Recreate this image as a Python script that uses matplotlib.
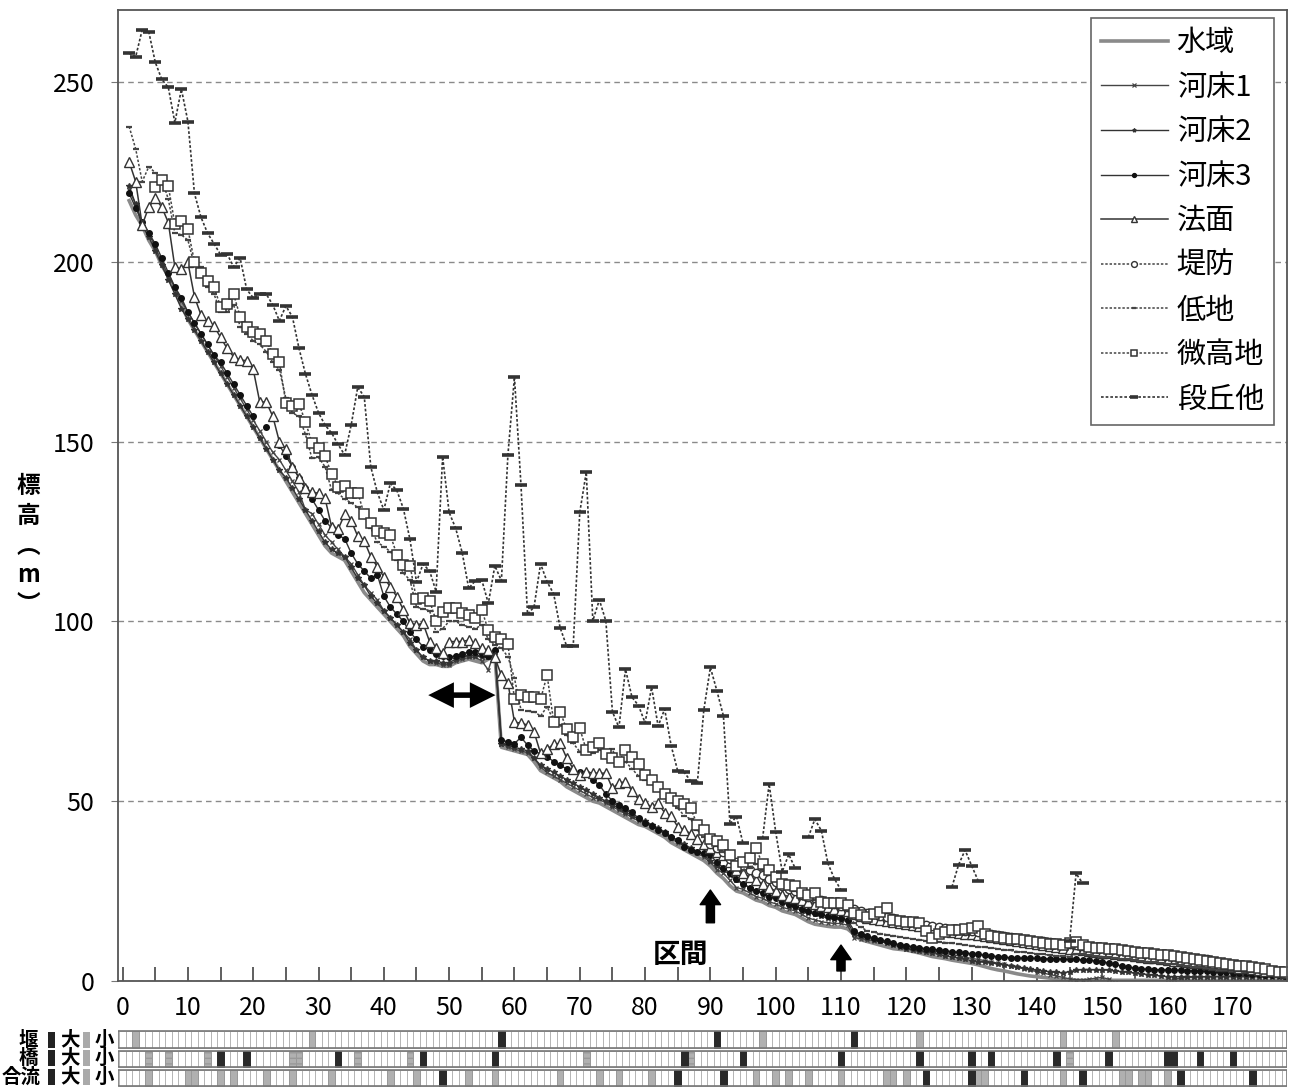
import numpy as np
import matplotlib.pyplot as plt
from matplotlib.patches import Rectangle

plt.rcParams['font.family'] = ['Noto Sans CJK JP', 'DejaVu Sans']
plt.rcParams['hatch.color'] = '#777777'

nan = np.nan
x = np.arange(1, 179)

# elevation (m) for each section, x = 1..178
suiiki = [217, 213, 210, 206, 203, 199, 196, 192, 188, 184,
          181, 178, 175, 172, 169, 166, 163, 160, 157, 154,
          151, 148, 145, 142, 139, 136, 133, 130, 127, 124,
          121, 119, 118, 117, 114, 111, 108, 106, 104, 102,
          100, 98, 96, 93, 91, 89, 88, 88, 87.5, 87.5,
          88.5, 89, 89.5, 89, 88.5, 89.5, 91,
          65, 64.5, 64, 63.5, 63, 61, 58.5, 57.5, 56.5, 55.5, 54, 53, 52,
          51, 50, 49.5, 48.5, 47.5, 46.5, 45.5, 44.5, 43.5, 43,
          42, 41, 40, 38.5, 37.5, 36.5, 35.5, 34.5, 33.5, 32,
          30, 28.5, 26.5, 25, 24.5, 23.5, 22.5, 22, 21, 20.5,
          19.5, 19, 18.5, 17.5, 16.5, 15.8, 15.5, 15.2, 15, 15,
          14.5, 13, 11.5, 11, 10.5, 10, 9.5, 9, 8.8, 8.6,
          8.2, 7.8, 7.3, 6.8, 6.5, 6.2, 5.8, 5.5, 5.2, 4.9,
          4.5, 4, 3.5, 3.1, 2.8, 2.4, 2, 1.7, 1.4, 1.2,
          1, 0.8, 0.6, 0.4, 0.3, 0.2, 0.2, 0.2, 0.2, 0.2,
          0.2, 0.2, 0.2, 0.2, 0.2, 0.2, 0.2, 0.2, 0.2, 0.2,
          0.2, 0.2, 0.2, 0.2, 0.2, 0.2, 0.2, 0.2, 0.2, 0.2,
          0.2, 0.2, 0.2, 0.2, 0.2, 0.2, 0.2, 0.2]

kasho1 = [220, 216, 211, 208, 204, 200, 196, 193, 189, 186,
          183, 180, 177, 174, 171, 168, 165, 162, 159, 156,
          153, 150, 147, 145, 142, 139, 136, 131, 130, 127,
          124, 122, 120, 118, 116, 113, 110, 108, 106, 103,
          101, 99, 97, 95, 92, 90, 89, 88.5, 88, 88,
          89, 89.5, 90, 90, 89, 86.5, 92,
          66, 65, 64.5, 64, 63.5, 62, 59.5, 58, 57, 56, 55, 54, 53,
          52, 51, 50.5, 49.5, 48.5, 47.5, 46.5, 45.5, 44.5, 44,
          43, 42, 41, 39.5, 38.5, 37.5, 36.5, 35.5, 34.5, 33,
          31, 30, 28, 26, 25.5, 24.5, 23.5, 23, 22, 21.5,
          20.5, 20, 19.5, 18.5, 17.5, 17, 16.5, 16.2, 16, 16,
          15.5, 12, 11.8, 11.5, 11.2, 11, 10.7, 10.4, 10.1, 9.8,
          9.5, 9.2, 8.8, 8.4, 8, 7.7, 7.3, 7, 6.6, 6.3,
          6, 5.7, 5.3, 5, 4.6, 4.2, 3.8, 3.4, 3, 2.6,
          2.2, 1.8, 1.4, 1, 0.6, 0.4, 0.3, 0.5, 0.8, 1,
          0.5, -0.5, -1, -1, -1, -1, -1, -1, -1, -0.5,
          0.5, 0.8, 1, 1.1, 1.2, 1.2, 1.3, 1.3, 1.4, 1.4,
          1.5, 1.5, 1.5, 1.6, 1.6, 1.6, 1.6, 1.7]

kasho2 = [221, 216, 210, 207, 203, 199, 195, 191, 187, 184,
          181, 178, 175, 172, 169, 166, 163, 160, 157, 154,
          151, 148, 145, 142, 140, 137, 134, 131, 128, 125,
          122, 120, 119, 118, 115, 112, 110, 107, 105, 103,
          101, 99, 97, 94, 92, 90, 89, 89, 88.5, 88.5,
          89.5, 90, 90.5, 90.5, 90, 90, 91.5,
          66, 65.5, 65, 64.5, 64, 62, 60, 59, 58, 57, 56, 55, 54,
          53, 52, 51, 50, 49, 48, 47, 46, 45, 44.5,
          43.5, 42.5, 41.5, 40, 39, 38, 37, 36, 35, 33.5,
          32, 31, 29.5, 28, 27, 26, 25, 24.5, 23.5, 23,
          22, 21, 20.5, 19.5, 19, 18.5, 18, 17.5, 17.2, 17,
          16.5, 13, 12.5, 12, 11.5, 11, 10.5, 10, 9.5, 9,
          8.6, 8.3, 8, 7.7, 7.4, 7, 6.7, 6.3, 6, 5.7,
          5.4, 5.2, 5, 4.8, 4.5, 4.2, 3.9, 3.6, 3.3, 3,
          2.8, 2.6, 2.4, 2.3, 2.6, 3, 3.2, 3.2, 3.1, 3.1,
          3, 2.8, 2.6, 2.4, 2.2, 2, 1.8, 1.6, 1.4, 1.2,
          1.2, 1.2, 1.2, 1.2, 1.2, 1.2, 1.2, 1.2, 1.2, 1.2,
          1.2, 1.2, 1.2, 1.2, 1.2, 1.1, 1.1, 1.1]

kasho3 = [219, 215, 211, 208, 205, 201, 197, 193, 190, 186,
          183, 180, 177, 174, 172, 169, 166, 163, 160, 157,
          nan, 154, nan, 149, 146, 143, 140, 137, 134, 131,
          128, 126, 124, 123, 119, 116, 114, 112, 113, 107,
          104, 102, 100, 97, 95, 93, 92, 91, 90.5, 90,
          90.5, 91, 91.5, 91.5, 91, 90.5, 92,
          67, 66.5, 66, 67.8, 65.6, 64, 63.1, 62.4, 61, 60, 59, 58.5, 58,
          57.8, 55.9, 54.5, 52, 50.1, 48.9, 48, 47, 45.2, 43.9,
          43, 42, 41.2, 40.1, 39.2, 37.3, 36.5, 36, 35.5, 35,
          33, 31.5, 30, 28.5, 27, 26, 25, 24.5, 23.5, 23,
          22, 21.5, 21, 20, 19.5, 19, 18.5, 18, 17.8, 17.5,
          17, 14, 13, 12.5, 12, 11.5, 11, 10.5, 10, 9.8,
          9.5, 9.3, 9, 8.8, 8.6, 8.4, 8.2, 8, 7.8, 7.6,
          7.4, 7.2, 7, 6.8, 6.6, 6.5, 6.4, 6.4, 6.3, 6.3,
          6.2, 6.2, 6.1, 6.1, 6, 6, 5.9, 5.8, 5.6, 5.4,
          5, 4.6, 4.2, 3.9, 3.6, 3.4, 3.3, 3.2, 3.1, 3.1,
          3, 3, 2.9, 2.9, 2.8, 2.7, 2.6, 2.5, 2.4, 2.3,
          2.2, 2.1, 2, 1.9, 1.8, 1.7, 1.6, 1.5]

houmen = [227.8, 222.3, 210.2, 215.2, 217.6, 215.2, 210.9, 198.5, 198, 199.8,
          190.3, 185.2, 183.5, 182.1, 179, 175.9, 173.6, 172.7, 172.5, 170.1,
          161, 161, 157, 150, 148, 143, 140, 137, 136, 135.6,
          134.2, 126.3, 125.6, 129.8, 128, 123.7, 122.4, 118, 115.2, 112.4,
          109.5, 106.9, 103.2, 99.5, 99, 99.5, 94.4, 92.5, 91.3, 94.4,
          94.4, 94.4, 94.8, 93.9, 92.5, 92, 90,
          85, 83, 72, 71.7, 71.2, 69.3, 63.3, 64.5, 65.8, 66.1, 62, 59, 57.3,
          58.2, 57.8, 57.8, 57.8, 53.6, 55.1, 55.4, 52.9, 50.5, 49.6,
          48.3, 49.4, 46.8, 45.9, 42.9, 42, 41, 39.5, 38, 37,
          36, 35, 33, 31, 30, 29, 28, 27, 26, 25,
          24, 23.5, 23, 22.5, 22, 21.5, 21, 20.5, 20, 19.8,
          19.5, 18.5, 18, 17.5, 17.2, 17, 16.7, 16.4, 16, 15.8,
          15.5, 15.2, 14.9, 14.6, 14.3, 14, 13.7, 13.4, 13.2, 13,
          12.8, 12.5, 12.2, 12, 11.7, 11.4, 11.1, 10.8, 10.5, 10.2,
          10, 9.7, 9.5, 9.2, 9, 8.8, 8.6, 8.3, 8.1, 7.9,
          7.7, 7.5, 7.3, 7.1, 6.9, 6.7, 6.5, 6.3, 6.1, 5.9,
          5.7, 5.5, 5.3, 5.1, 4.9, 4.7, 4.5, 4.3, 4.1, 3.9,
          3.7, 3.5, 3.3, 3.1, 2.9, 2.7, 2.5, 2.3]

teibou = [nan, nan, nan, nan, nan, nan, nan, nan, nan, nan,
          nan, nan, nan, nan, nan, nan, nan, nan, nan, nan,
          nan, nan, nan, nan, nan, nan, nan, nan, nan, nan,
          nan, nan, nan, nan, nan, nan, nan, nan, nan, nan,
          nan, nan, nan, nan, nan, nan, nan, nan, nan, nan,
          nan, nan, nan, nan, nan, nan, nan,
          nan, nan, nan, nan, nan, nan, nan, nan, nan, nan, nan, nan, nan,
          nan, nan, nan, nan, nan, nan, nan, nan, nan, nan,
          nan, nan, nan, nan, nan, nan, nan, nan, nan, 38,
          37, 36, 34, 33, 32, 31, 30, 29.5, 28.5, 27.5,
          26.5, 25.5, 25, 24, 23.5, 23, 22.5, 22, 21.5, 21,
          20.5, 20, 19.5, 19, 18.5, 18.2, 17.8, 17.4, 17, 16.6,
          16.3, 16, 15.7, 15.4, 15.1, 14.8, 14.5, 14.2, 14, 13.8,
          13.5, 13.2, 13, 12.7, 12.4, 12.2, 12, 11.7, 11.5, 11.2,
          11, 10.8, 10.6, 10.4, 10.2, 10, 9.8, 9.6, 9.4, 9.2,
          9, 8.8, 8.6, 8.4, 8.2, 8, 7.8, 7.6, 7.4, 7.2,
          7, 6.8, 6.6, 6.4, 6.2, 6, 5.7, 5.4, 5.1, 4.8,
          4.5, 4.2, 3.9, 3.6, 3.3, 3, 2.8, 2.6]

teichi = [237.6, 231.4, 222.3, 226.4, 224.8, 223, 217.4, 208, 207.5, 206,
          199, 198.6, 193, 191, 186, 186, 188, 182, 180, 178,
          177, 175, 172, 170, 162, 158, 157, 152, 145.3, 145.6,
          143, 136.5, 135.6, 134, 133, 131.7, 130, 126, 122, 120.8,
          119.4, 117, 113.4, 111.5, 104, 103.5, 103, 97, 98, 100,
          100, 99, 98.5, 98, 99, 95, 93.5,
          92.5, 90.2, 84.2, 75.4, 75, 74.9, 73.7, 76.3, 72.4, 71.2, 68.4, 66.1, 63.8,
          63.3, 63.3, 64.2, 64.3, 64.4, 60.3, 61, 59, 57, 56,
          55.5, 54.8, 52.5, 50, 48, 46, 45, 42, 40, 38.5,
          37.5, 36, 34, 32, 31, 31.5, 32.5, 31, 29.5, 28,
          26.5, 25.5, 25, 23.5, 23, 22.5, 21.5, 21, 20.5, 20.5,
          20, 16, 15, 14, 13.6, 13.2, 12.9, 12.6, 12.3, 12,
          11.7, 11.5, 11.2, 11, 10.9, 10.7, 10.5, 10.3, 10, 9.8,
          9.6, 9.4, 9.2, 9, 8.7, 8.5, 8.2, 8, 7.8, 7.6,
          7.4, 7.2, 7, 6.9, 6.8, 7.5, 7.4, 7.2, 7, 6.8,
          6.6, 6.4, 6.2, 6, 5.8, 5.6, 5.4, 5.2, 5, 4.8,
          4.6, 4.4, 4.2, 4, 3.8, 3.6, 3.4, 3.2, 3, 2.8,
          2.7, 2.6, 2.5, 2.4, 2.3, 2.2, 2.1, 2]

bikouchi = [nan, nan, nan, nan, 220.7, 222.7, 221, 210.5, 211.4, 209,
            200, 197, 194.7, 192.9, 187.5, 188.3, 191, 184.7, 182, 180.6,
            179.9, 178, 174.4, 172, 160.8, 159.9, 160.5, 155.5, 149.5, 148.1,
            146, 141, 137.5, 137.7, 135.8, 135.8, 129.8, 127.4, 125.1, 124.7,
            124, 118.5, 115.7, 115.5, 106.1, 106.4, 105.8, 100.2, 102.7, 103.6,
            103.6, 102.3, 101.8, 100.9, 103.2, 97.5, 95.7,
            95.2, 93.8, 78.3, 79.5, 79, 79, 78.3, 85.1, 72.1, 74.9, 70, 67.9, 70.3,
            64.2, 65, 66.3, 63, 62, 61, 64.2, 62.4, 60.3, 57.3,
            55.9, 54, 52, 51, 50.1, 49.2, 48, 43.4, 42, 39.4,
            39, 37.8, 35, 32, 33, 34.3, 36.9, 32.5, 30.9, 29,
            27, 26.7, 26.4, 24.4, 23.9, 24.4, 22.1, 21.6, 21.6, 21.6,
            21.1, 18.8, 18.3, 17.9, 18.5, 19.3, 20.2, 17, 16.8, 16.5,
            16.3, 16.2, 14, 11.9, 13.1, 13.5, 14.2, 14.2, 14.5, 14.8,
            15.3, 13, 12.6, 12.3, 12, 11.8, 11.6, 11.3, 11, 10.8,
            10.6, 10.4, 10.2, 10, 10.5, 10.9, 10, 9.6, 9.3, 9.1,
            8.9, 8.8, 8.6, 8.3, 8.1, 7.9, 7.7, 7.5, 7.3, 7.1,
            6.9, 6.6, 6.3, 6.1, 5.9, 5.6, 5.3, 5, 4.8, 4.5,
            4.3, 4.1, 4, 3.6, 3.3, 2.9, 2.6, 2.4]

dankyu = [258, 257, 264.5, 264, 255.5, 250.7, 248.5, 238.7, 248, 239,
          219, 212.4, 208, 205, 202, 202.2, 198.6, 201, 192.3, 190,
          191, 191, 188, 183.6, 187.7, 184.7, 176, 168.8, 163, 158,
          154.6, 152.4, 149.2, 146.3, 154.6, 165.1, 162.5, 143, 135.9, 131,
          138.4, 136.4, 131.3, 122.8, 111, 115.9, 114.1, 108.3, 145.8, 130.3,
          125.9, 119.1, 109.2, 111.3, 111.5, 105, 115.5,
          111.3, 146.3, 168, 137.9, 102, 104, 116, 111, 107.7, 98.2, 93.1, 93.2, 130.3,
          141.5, 100.2, 106, 100.1, 74.9, 70.5, 86.7, 78.9, 76.6, 71.8,
          81.7, 70.9, 75.6, 65.4, 58.4, 58, 55.6, 55, 75.4, 87.2,
          80.7, 73.7, 43.7, 45.7, 38.3, nan, nan, 39.7, 54.8, 41.5,
          30.4, 35.2, 31.3, nan, 40, 45, 41.8, 32.7, 28.4, 25.3,
          nan, nan, nan, nan, nan, nan, nan, nan, nan, nan,
          nan, nan, nan, nan, nan, nan, 26.2, 32.3, 36.4, 32.1,
          27.9, nan, nan, nan, nan, nan, nan, nan, nan, nan,
          nan, nan, nan, nan, 11, 29.9, 27.2, nan, nan, nan,
          nan, nan, nan, nan, nan, nan, nan, nan, nan, nan,
          nan, nan, nan, nan, nan, nan, nan, nan, nan, nan,
          nan, nan, nan, nan, nan, nan, nan, nan]

labels = ["水域", "河床1", "河床2", "河床3", "法面", "堤防", "低地", "微高地", "段丘他"]
series = [suiiki, kasho1, kasho2, kasho3, houmen, teibou, teichi, bikouchi, dankyu]
for s in series:
    assert len(s) == 178, len(s)

# structures along the river (section numbers)
seki_big = [58, 91, 112]
seki_small = [2, 29, 98, 122, 144, 152]
hashi_big = [15, 19, 33, 46, 57, 86, 95, 110, 122, 130, 133, 143, 151, 160, 161, 165, 170]
hashi_small = [4, 7, 13, 26, 27, 36, 44, 71, 87, 145]
gou_big = [49, 85, 92, 123, 130, 138, 147, 162, 173]
gou_small = [4, 10, 11, 15, 17, 22, 26, 32, 41, 45, 53, 57, 67, 73, 76, 81, 97, 100,
             102, 105, 110, 117, 118, 120, 131, 132, 144, 153, 154, 156, 157, 160]

dot = (0, (1.6, 1.2))
styles = [
    dict(color='#8a8a8a', lw=2.6, ls='-'),
    dict(color='#444444', lw=1.0, ls='-', marker='x', ms=3.5, mew=0.9),
    dict(color='#333333', lw=1.0, ls='-', marker='*', ms=4),
    dict(color='#333333', lw=1.0, ls='-', marker='o', ms=4, mfc='#111111', mec='#111111'),
    dict(color='#333333', lw=1.1, ls='-', marker='^', ms=6.5, mfc='white', mec='#333333', mew=1.0),
    dict(color='#444444', lw=1.1, ls=dot, marker='o', ms=6, mfc='white', mec='#333333', mew=1.0),
    dict(color='#444444', lw=1.1, ls=dot, marker='_', ms=4, mew=1.6),
    dict(color='#444444', lw=1.1, ls=dot, marker='s', ms=7, mfc='white', mec='#333333', mew=1.1),
    dict(color='#333333', lw=1.2, ls=dot, marker='_', ms=8, mew=2.6),
]

fig = plt.figure(figsize=(12.9, 10.91), dpi=100)
ax = fig.add_axes([0.0915, 0.1008, 0.9062, 0.890])

for s, lab, st in zip(series, labels, styles):
    ax.plot(x, s, label=lab, **st)

ax.set_xlim(-0.7, 178.3)
ax.set_ylim(0, 270)
ax.set_yticks(range(0, 251, 50))
ax.set_xticks(range(0, 171, 10))
ax.set_xticks(range(5, 176, 10), minor=True)
ax.tick_params(axis='x', which='both', direction='in', length=10, width=1.2,
               color='#444444', labelsize=18, pad=10)
ax.tick_params(axis='y', direction='out', length=5, color='#777777', labelsize=18, pad=12)
ax.grid(axis='y', color='#8a8a8a', ls=(0, (4, 3)), lw=1.0)
ax.set_axisbelow(True)
for sp in ax.spines.values():
    sp.set_color('#555555')
    sp.set_linewidth(1.3)

leg = ax.legend(loc='upper right', bbox_to_anchor=(0.989, 0.992), borderaxespad=0,
                fontsize=21, handlelength=2.3, handletextpad=0.3, labelspacing=0.5,
                borderpad=0.35, markerscale=0.7, fancybox=False, framealpha=1,
                edgecolor='#666666')
leg.get_frame().set_linewidth(1.2)

# annotations: block arrows and section label
ax.annotate('', xy=(46.8, 79.5), xytext=(57.1, 79.5),
            arrowprops=dict(arrowstyle='<|-|>', lw=4, color='black', mutation_scale=30,
                            shrinkA=0, shrinkB=0, joinstyle='miter', capstyle='butt'))
up = dict(arrowstyle='simple,head_length=0.75,head_width=1.05,tail_width=0.42',
          fc='black', ec='black', mutation_scale=14, shrinkA=0, shrinkB=0)
ax.annotate('', xy=(90, 25.3), xytext=(90, 16.2), arrowprops=up)
ax.annotate('', xy=(110, 10.0), xytext=(110, 2.8), arrowprops=up)
ax.text(85.4, 7.3, '区間', fontsize=20, fontweight='bold', ha='center', va='center')

# y label written vertically
fig.text(0.022, 0.5, '標\n高\n︵\nm\n︶', fontsize=17, fontweight='bold',
         ha='center', va='center', linespacing=1.3)

# structure strips below the chart
sx = fig.add_axes([0.0915, 0.003, 0.9062, 0.053])
sx.set_xlim(-0.7, 178.3)
sx.set_ylim(0, 3)
sx.axis('off')
rows = [(2, seki_big, seki_small, None),
        (1, hashi_big, hashi_small, '---'),
        (0, gou_big, gou_small, None)]
for r, big, small, hatch in rows:
    y0, h = r + 0.07, 0.86
    for k in range(0, 179):
        sx.add_patch(Rectangle((k - 0.5, y0), 1, h, fc='white', ec='#b5b5b5', lw=0.7))
    for k in small:
        sx.add_patch(Rectangle((k - 0.5, y0), 1, h, fc='#b0b0b0', ec='#999999', lw=0.7,
                               hatch=hatch))
    for k in big:
        sx.add_patch(Rectangle((k - 0.5, y0), 1, h, fc='#2a2a2a', ec='#2a2a2a', lw=0.7))
    sx.add_patch(Rectangle((-0.7, y0), 179, h, fc='none', ec='#777777', lw=1.2))

# strip row labels
row_y = [1040, 1058, 1077]
names = ['堰', '橋', '合流']
name_x = [28, 28, 21]
for yy, nm, nx in zip(row_y, names, name_x):
    fy = (1091 - yy) / 1091
    fig.text(nx / 1290, fy, nm, fontsize=14, fontweight='bold', ha='center', va='center')
    fig.text(70 / 1290, fy, '大', fontsize=14, fontweight='bold', ha='center', va='center')
    fig.text(104 / 1290, fy, '小', fontsize=14, fontweight='bold', ha='center', va='center')
    fig.patches.append(Rectangle((48 / 1290, fy - 8 / 1091), 7 / 1290, 16 / 1091,
                                 fc='#222222', ec='none', transform=fig.transFigure))
    fig.patches.append(Rectangle((83 / 1290, fy - 8 / 1091), 7 / 1290, 16 / 1091,
                                 fc='#aaaaaa', ec='none', transform=fig.transFigure))

fig.savefig('out.png', dpi=100)
